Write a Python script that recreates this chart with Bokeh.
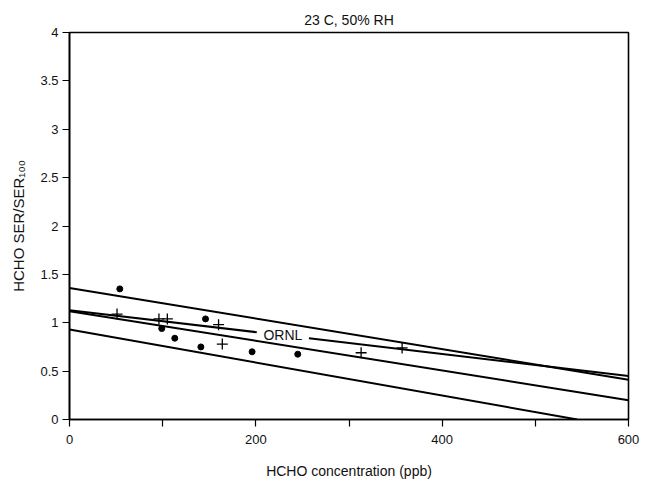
import numpy as np
from bokeh.plotting import figure
from bokeh.models import Range1d, FixedTicker, Label
from bokeh.embed import file_html
from bokeh.resources import INLINE

# ---- data ----
title_text = "23 C, 50% RH"
x_label = "HCHO concentration (ppb)"
y_label = "HCHO SER/SER\u2081\u2080\u2080"

# band / regression lines: (x0, y0) -> (x1, y1)
upper_x = [0, 600]
upper_y = [1.36, 0.41]
middle_x = [0, 600]
middle_y = [1.12, 0.20]
lower_x = [0, 545]
lower_y = [0.93, 0.0]
ornl_x = [0, 600]
ornl_y = [1.13, 0.45]
ornl_gap = [201, 257]          # break in the ORNL line where its label sits
ornl_label = "ORNL"

dots_x = [54, 99, 113, 141, 146, 196, 245]
dots_y = [1.35, 0.94, 0.84, 0.75, 1.04, 0.70, 0.675]
plus_x = [51, 96, 105, 160, 164, 313, 357]
plus_y = [1.09, 1.04, 1.04, 0.98, 0.78, 0.69, 0.74]

x_ticks = [0, 100, 200, 300, 400, 500, 600]
x_tick_labels = {0: "0", 100: "", 200: "200", 300: "", 400: "400", 500: "", 600: "600"}
y_ticks = [0, 0.5, 1, 1.5, 2, 2.5, 3, 3.5, 4]
y_tick_labels = {0: "0", 0.5: "0.5", 1: "1", 1.5: "1.5", 2: "2", 2.5: "2.5", 3: "3", 3.5: "3.5", 4: "4"}

FONT = "Liberation Sans"

p = figure(width=640, height=481, output_backend="svg", toolbar_location=None,
           x_range=Range1d(0, 600), y_range=Range1d(0, 4),
           min_border_left=69, min_border_right=12, min_border_top=32, min_border_bottom=52)

p.title.text = title_text
p.title.align = "center"
p.title.text_font = FONT
p.title.text_font_size = "14px"
p.title.text_font_style = "normal"
p.title.text_color = "#111111"
p.title.standoff = 10

p.grid.visible = False
p.outline_line_color = "black"
p.outline_line_width = 1.6
p.background_fill_color = "white"
p.border_fill_color = "white"

p.xaxis.ticker = FixedTicker(ticks=x_ticks)
p.xaxis.major_label_overrides = x_tick_labels
p.yaxis.ticker = FixedTicker(ticks=y_ticks)
p.yaxis.major_label_overrides = y_tick_labels

for ax in (p.xaxis[0], p.yaxis[0]):
    ax.axis_line_color = "black"
    ax.axis_line_width = 1.6
    ax.major_tick_line_color = "black"
    ax.major_tick_line_width = 1.2
    ax.major_tick_in = 0
    ax.major_tick_out = 7
    ax.minor_tick_line_color = None
    ax.major_label_text_font = FONT
    ax.major_label_text_font_size = "13px"
    ax.major_label_text_color = "#111111"
    ax.axis_label_text_font = FONT
    ax.axis_label_text_font_size = "14px"
    ax.axis_label_text_font_style = "normal"
    ax.axis_label_text_color = "#111111"

p.yaxis.axis_label_text_font_size = "15px"
p.xaxis.axis_label = x_label
p.yaxis.axis_label = y_label
p.xaxis.major_label_standoff = 8
p.xaxis.axis_label_standoff = 16
p.yaxis.major_label_standoff = 4
p.yaxis.axis_label_standoff = 10

LW = 2.0
p.line(upper_x, upper_y, line_color="black", line_width=LW)
p.line(middle_x, middle_y, line_color="black", line_width=LW)
p.line(lower_x, lower_y, line_color="black", line_width=LW)

# ORNL line drawn in two pieces, broken around its label
gap_y = list(np.interp(ornl_gap, ornl_x, ornl_y))
p.line([ornl_x[0], ornl_gap[0]], [ornl_y[0], gap_y[0]], line_color="black", line_width=LW)
p.line([ornl_gap[1], ornl_x[1]], [gap_y[1], ornl_y[1]], line_color="black", line_width=LW)

p.scatter(dots_x, dots_y, marker="circle", size=6, fill_color="black", line_color="black")
p.scatter(plus_x, plus_y, marker="cross", size=11, line_color="black", line_width=1.3)

label_x = float(np.mean(ornl_gap))
label_y = float(np.interp(label_x, ornl_x, ornl_y))
p.add_layout(Label(x=label_x, y=label_y, text=ornl_label, text_font=FONT,
                   text_font_size="14px", text_align="center", text_baseline="middle",
                   text_color="#111111"))

open("out.html", "w").write(file_html(p, INLINE))
